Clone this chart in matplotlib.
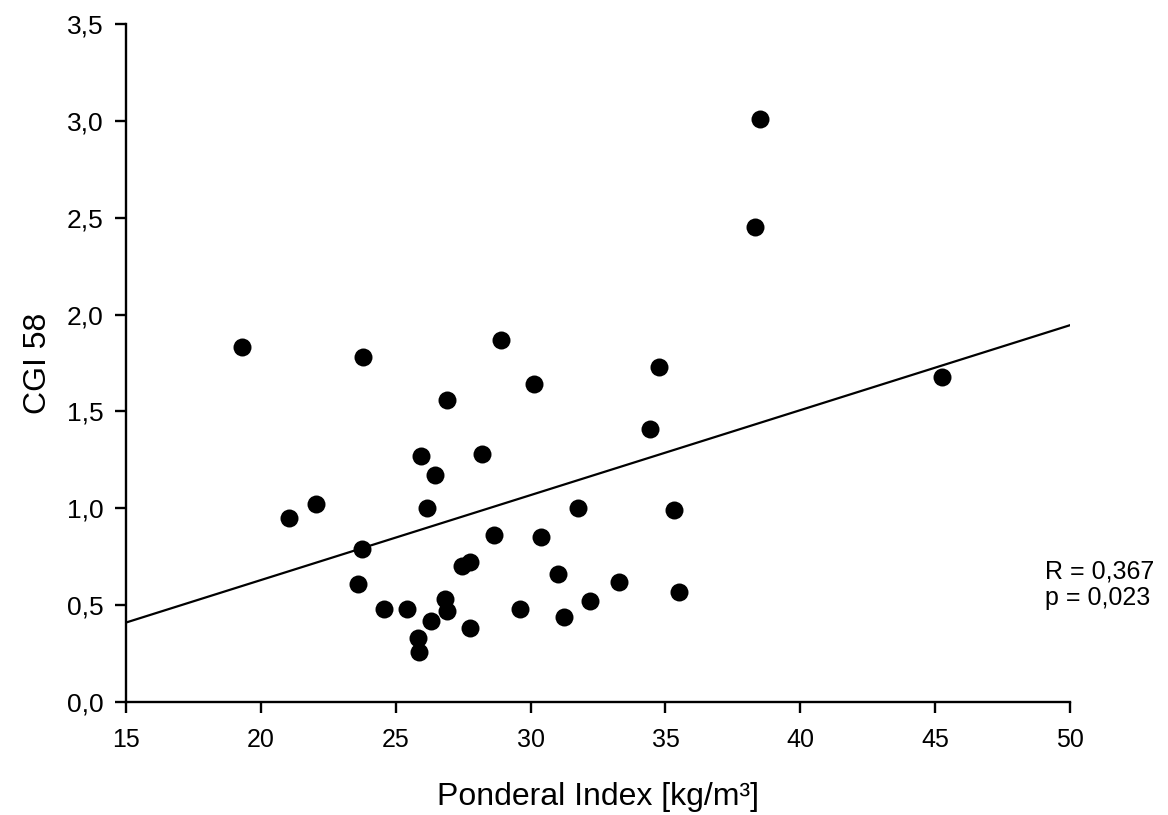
import matplotlib
matplotlib.use("Agg")
import matplotlib.pyplot as plt

# Data
ponderal_index = [19.3, 21.04, 22.05, 23.79, 23.75, 23.6, 24.57, 25.42, 25.83, 25.86,
                  25.94, 26.16, 26.3, 26.46, 26.83, 26.9, 26.9, 27.46, 27.75, 27.75,
                  28.2, 28.64, 28.9, 29.6, 30.13, 30.39, 31.0, 31.24, 31.76, 32.2,
                  33.28, 34.43, 34.76, 35.3, 35.5, 38.32, 38.5, 45.26]
cgi58 = [1.83, 0.95, 1.02, 1.78, 0.79, 0.61, 0.48, 0.48, 0.33, 0.26,
         1.27, 1.00, 0.42, 1.17, 0.53, 0.47, 1.56, 0.70, 0.72, 0.38,
         1.28, 0.86, 1.87, 0.48, 1.64, 0.85, 0.66, 0.44, 1.00, 0.52,
         0.62, 1.41, 1.73, 0.99, 0.57, 2.45, 3.01, 1.68]
fit_x = [15, 50]
fit_y = [0.41, 1.945]
x_ticks = [15, 20, 25, 30, 35, 40, 45, 50]
y_ticks = [0.0, 0.5, 1.0, 1.5, 2.0, 2.5, 3.0, 3.5]
y_tick_labels = ["0,0", "0,5", "1,0", "1,5", "2,0", "2,5", "3,0", "3,5"]
stats_lines = ["R = 0,367", "p = 0,023"]

plt.rcParams['font.family'] = ['Liberation Sans', 'DejaVu Sans']

fig = plt.figure(figsize=(11.68, 8.15), dpi=100)
ax = fig.add_axes([0.1079, 0.1387, 0.8082, 0.8319])

ax.plot(fit_x, fit_y, color='black', lw=1.6, zorder=2)
ax.scatter(ponderal_index, cgi58, s=168, color='black', zorder=3, clip_on=False,
           linewidths=0)

ax.set_xlim(15, 50)
ax.set_ylim(0, 3.5)
ax.set_xticks(x_ticks)
ax.set_xticklabels([str(t) for t in x_ticks])
ax.set_yticks(y_ticks)
ax.set_yticklabels(y_tick_labels)

for s in ['top', 'right']:
    ax.spines[s].set_visible(False)
for s in ['left', 'bottom']:
    ax.spines[s].set_linewidth(1.7)

ax.tick_params(axis='both', direction='out', length=8, width=1.7, colors='black')
ax.tick_params(axis='y', labelsize=19, pad=8)
ax.tick_params(axis='x', labelsize=18, pad=11)

ax.set_xlabel("Ponderal Index [kg/m³]", fontsize=23, va='center')
ax.xaxis.set_label_coords(0.5, -0.140)
ax.set_ylabel("CGI 58", fontsize=23, va='center')
ax.yaxis.set_label_coords(-0.093, 0.5)

ax.text(0.9735, 0.1917, stats_lines[0], transform=ax.transAxes, fontsize=18,
        ha='left', va='center')
ax.text(0.9735, 0.153, stats_lines[1], transform=ax.transAxes, fontsize=18,
        ha='left', va='center')

fig.savefig("out.png", dpi=100)
